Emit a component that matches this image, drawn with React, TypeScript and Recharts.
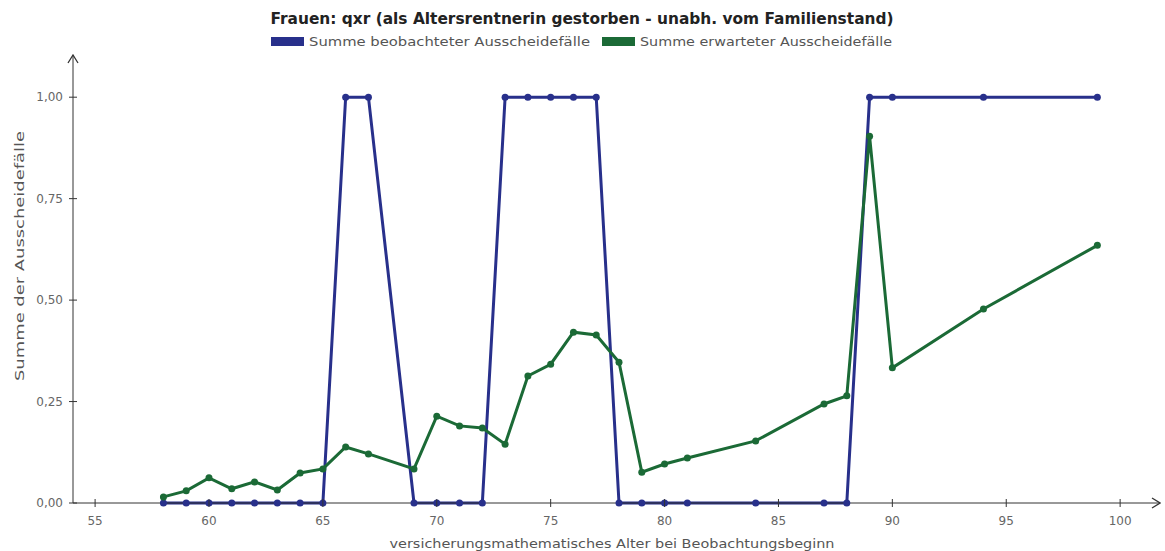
import { LineChart, Line, XAxis, YAxis } from "recharts";

const ages = [58, 59, 60, 61, 62, 63, 64, 65, 66, 67, 69, 70, 71, 72, 73, 74, 75, 76, 77, 78, 79, 80, 81, 84, 87, 88, 89, 90, 94, 99];
const observed = [0, 0, 0, 0, 0, 0, 0, 0, 1, 1, 0, 0, 0, 0, 1, 1, 1, 1, 1, 0, 0, 0, 0, 0, 0, 0, 1, 1, 1, 1];
const expected = [
  0.015, 0.03, 0.062, 0.035, 0.052, 0.032, 0.074, 0.084, 0.138, 0.121, 0.084, 0.214, 0.19, 0.185, 0.145,
  0.313, 0.342, 0.421, 0.414, 0.347, 0.076, 0.096, 0.111, 0.153, 0.244, 0.264, 0.904, 0.333, 0.478, 0.635,
];
const xTicks = [55, 60, 65, 70, 75, 80, 85, 90, 95, 100];
const yTicks = [0, 0.25, 0.5, 0.75, 1];

const BLUE = "#28308b";
const GREEN = "#1b6a36";
const FONT = "'DejaVu Sans', sans-serif";
const AXIS_X = 73;
const AXIS_Y = 503;

const data = ages.map((a, i) => ({ age: a, observed: observed[i], expected: expected[i] }));

function XTick(props: any) {
  const { x, payload } = props;
  return (
    <g>
      <line x1={x} x2={x} y1={AXIS_Y - 4} y2={AXIS_Y + 4} stroke="#333" strokeWidth={1} />
      <text x={x} y={AXIS_Y + 22} textAnchor="middle" fill="#666" fontSize={12} fontFamily={FONT}>
        {payload.value}
      </text>
    </g>
  );
}

function YTick(props: any) {
  const { y, payload } = props;
  return (
    <g>
      <line x1={AXIS_X - 4} x2={AXIS_X + 4} y1={y} y2={y} stroke="#333" strokeWidth={1} />
      <text x={AXIS_X - 10} y={y + 4} textAnchor="end" fill="#666" fontSize={12} fontFamily={FONT}>
        {Number(payload.value).toFixed(2).replace(".", ",")}
      </text>
    </g>
  );
}

export default function App() {
  return (
    <div style={{ position: "absolute", left: 0, top: 0, width: 1165, height: 551, background: "#fff" }}>
      <svg width={0} height={0} style={{ position: "absolute" }}>
        <defs>
          <marker id="arrowHead" viewBox="0 0 10 12" refX={9} refY={6} markerWidth={10} markerHeight={12}
            markerUnits="userSpaceOnUse" orient="auto-start-reverse">
            <path d="M1,1 L9,6 L1,11" fill="none" stroke="#333" strokeWidth={1.3} />
          </marker>
        </defs>
      </svg>
      <LineChart width={1165} height={551} data={data} margin={{ top: 55, right: 5, bottom: 0, left: 0 }}>
        <XAxis
          dataKey="age"
          type="number"
          domain={[54.03, 101.75]}
          ticks={xTicks}
          height={48}
          tick={<XTick />}
          tickLine={false}
          axisLine={{ stroke: "#333", strokeWidth: 1, markerEnd: "url(#arrowHead)" }}
        />
        <YAxis
          type="number"
          domain={[0, 1.104]}
          ticks={yTicks}
          width={73}
          tick={<YTick />}
          tickLine={false}
          axisLine={{ stroke: "#333", strokeWidth: 1, markerStart: "url(#arrowHead)" }}
        />
        <Line
          dataKey="observed"
          stroke={BLUE}
          strokeWidth={3}
          dot={{ r: 3.5, fill: BLUE, stroke: BLUE, strokeWidth: 0 }}
          isAnimationActive={false}
        />
        <Line
          dataKey="expected"
          stroke={GREEN}
          strokeWidth={3}
          dot={{ r: 3.5, fill: GREEN, stroke: GREEN, strokeWidth: 0 }}
          isAnimationActive={false}
        />
      </LineChart>
      <svg width={1165} height={551} style={{ position: "absolute", left: 0, top: 0, pointerEvents: "none" }}>
        <text x={582} y={24} textAnchor="middle" fontFamily={FONT} fontWeight="bold" fontSize={15.5} fill="#222"
          textLength={623} lengthAdjust="spacingAndGlyphs">
          Frauen: qxr (als Altersrentnerin gestorben - unabh. vom Familienstand)
        </text>
        <rect x={271} y={37} width={33} height={9} fill={BLUE} />
        <text x={309} y={46} fontFamily={FONT} fontSize={12.5} fill="#555" textLength={281} lengthAdjust="spacingAndGlyphs">
          Summe beobachteter Ausscheidefälle
        </text>
        <rect x={602} y={37} width={33} height={9} fill={GREEN} />
        <text x={640} y={46} fontFamily={FONT} fontSize={12.5} fill="#555" textLength={252} lengthAdjust="spacingAndGlyphs">
          Summe erwarteter Ausscheidefälle
        </text>
        <text x={612} y={548} textAnchor="middle" fontFamily={FONT} fontSize={12.5} fill="#555" textLength={445}
          lengthAdjust="spacingAndGlyphs">
          versicherungsmathematisches Alter bei Beobachtungsbeginn
        </text>
        <text x={24} y={256} textAnchor="middle" fontFamily={FONT} fontSize={12.5} fill="#555"
          transform="rotate(-90 24 256)" textLength={250} lengthAdjust="spacingAndGlyphs">
          Summe der Ausscheidefälle
        </text>
      </svg>
    </div>
  );
}
